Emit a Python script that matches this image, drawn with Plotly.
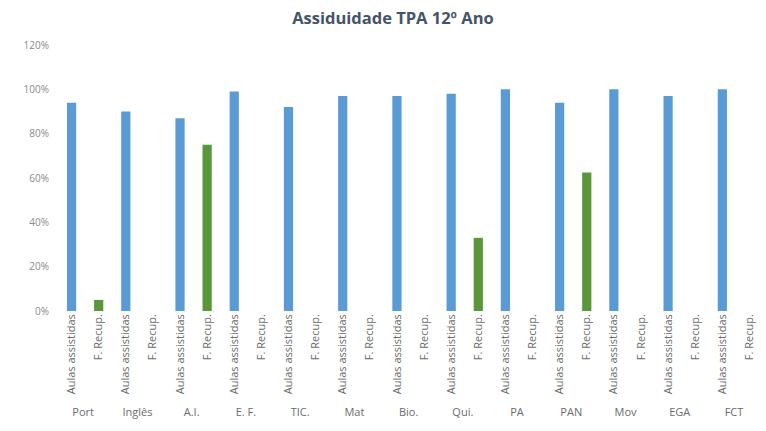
import plotly.graph_objects as go

groups = ["Port", "Inglês", "A.I.", "E. F.", "TIC.", "Mat", "Bio.", "Qui.", "PA", "PAN", "Mov", "EGA", "FCT"]
sub_labels = ["Aulas assistidas", "F. Recup."]
aulas_assistidas = [0.94, 0.90, 0.87, 0.99, 0.92, 0.97, 0.97, 0.98, 1.00, 0.94, 1.00, 0.97, 1.00]
f_recup = [0.05, 0.0, 0.75, 0.0, 0.0, 0.0, 0.0, 0.33, 0.0, 0.625, 0.0, 0.0, 0.0]
y_ticks = [0, 0.2, 0.4, 0.6, 0.8, 1.0, 1.2]

xg, xs, yv, colors = [], [], [], []
for g, a, r in zip(groups, aulas_assistidas, f_recup):
    xg += [g, g]
    xs += sub_labels
    yv += [a, r]
    colors += ["#5B9BD5", "#5A963A"]

fig = go.Figure(go.Bar(x=[xg, xs], y=yv, marker=dict(color=colors, line=dict(width=0)), width=0.34))

fig.update_layout(
    width=766, height=431,
    paper_bgcolor="white", plot_bgcolor="white",
    margin=dict(l=58, r=3, t=45, b=120),
    title=dict(text="<b>Assiduidade TPA 12º Ano</b>", x=0.513, xanchor="center", y=0.958, yanchor="middle",
               font=dict(family="Open Sans", size=16.5, color="#44546A")),
    showlegend=False,
    font=dict(family="Open Sans", size=10, color="#6b6b6b"),
)
fig.update_yaxes(range=[0, 1.2], tickvals=y_ticks, tickformat=".0%", showgrid=False, zeroline=False,
                 showline=False, ticks="", ticklabelstandoff=8, automargin=False,
                 tickfont=dict(size=10, color="#8a8a8a"))
fig.update_xaxes(type="multicategory", tickangle=-90, showdividers=False, showline=False, ticks="",
                 automargin=False, tickfont=dict(size=11, color="#6b6b6b"))

fig.write_html("out.html", config={"displayModeBar": False},
               post_script="document.body.style.margin='0';document.body.style.padding='0';document.body.style.overflow='hidden';")
